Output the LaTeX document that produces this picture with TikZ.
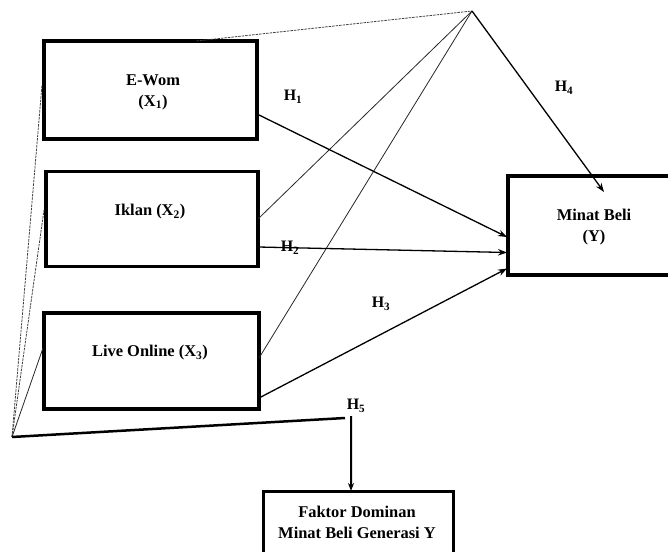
\documentclass[tikz,border=0pt]{standalone}
\usepackage{fontspec}
\setmainfont{Liberation Serif}
\usetikzlibrary{arrows.meta}
\begin{document}
\begin{tikzpicture}[x=1bp,y=-1bp,
  box/.style={draw, line width=3.8bp, inner sep=0pt, outer sep=0pt},
  lbl/.style={font=\bfseries\fontsize{16.5}{21}\selectfont, align=center, inner sep=0pt},
  hyp/.style={font=\bfseries\fontsize{16}{18}\selectfont, inner sep=0pt},
  arr/.style={line width=1.3bp, -{Stealth[length=9bp,width=6.5bp]}},
  dashln/.style={line width=0.8bp, dash pattern=on 2.5bp off 1bp, black!75},
  thinln/.style={line width=0.8bp, black!85}
]
\useasboundingbox (0,0) rectangle (668,552);
% boxes
\node[box, minimum width=213bp, minimum height=98bp] (x1) at (150.5,90) {};
\node[box, minimum width=212bp, minimum height=95bp] (x2) at (152,219) {};
\node[box, minimum width=215bp, minimum height=96bp] (x3) at (151.5,361) {};
\node[box, minimum width=172bp, minimum height=99bp] (y) at (594,225.5) {};
\node[box, line width=3bp, minimum width=190bp, minimum height=80bp] (fak) at (358,531) {};
% texts
\node[lbl] (tx1) at (153,92) {E-Wom\\(X\textsubscript{1})};
\node[lbl] (tx2) at (150,212) {Iklan (X\textsubscript{2})};
\node[lbl] (tx3) at (150,353) {Live Online (X\textsubscript{3})};
\node[lbl] (ty) at (594,227) {Minat Beli\\(Y)};
\node[lbl] (tfak) at (357,522) {Faktor Dominan\\Minat Beli Generasi Y};
% free points
\coordinate (apex) at (472,11);
\coordinate (bl) at (12,437);
\coordinate (h5a) at (345,418);
\coordinate (h5b) at (351,416);
% lines from apex
\draw[dashln] ([xshift=46bp]x1.north) -- (apex);
\draw[thinln] (x2.east) -- (apex);
\draw[thinln] ([yshift=3bp]x3.east) -- (apex);
\draw[arr] (apex) -- ([xshift=10bp,yshift=-16bp]y.north);
% hypothesis arrows
\draw[arr] ([yshift=-24bp]x1.east) -- ([xshift=-1bp,yshift=-11.5bp]y.west);
\draw[arr] ([yshift=-28bp]x2.east) -- ([xshift=-1bp,yshift=-27bp]y.west);
\draw[arr] ([yshift=-37bp]x3.east) -- ([xshift=-1bp,yshift=-43bp]y.west);
% lines from bottom-left
\draw[dashln] (bl) -- ([xshift=-2bp,yshift=5bp]x1.west);
\draw[dashln] (bl) -- ([xshift=-2bp,yshift=9bp]x2.west);
\draw[thinln] (bl) -- ([xshift=-1bp,yshift=13bp]x3.west);
\draw[line width=2.5bp] (bl) -- (h5a);
\draw[line width=2bp, -{Stealth[length=8bp,width=6bp]}] (h5b) -- ([xshift=-7bp]fak.north);
% labels
\node[hyp] (h1) at (293,97) {H\textsubscript{1}};
\node[hyp] (h2) at (290,248) {H\textsubscript{2}};
\node[hyp] (h3) at (381,304) {H\textsubscript{3}};
\node[hyp] (h4) at (564,88) {H\textsubscript{4}};
\node[hyp] (h5) at (356,406) {H\textsubscript{5}};
\end{tikzpicture}
\end{document}
